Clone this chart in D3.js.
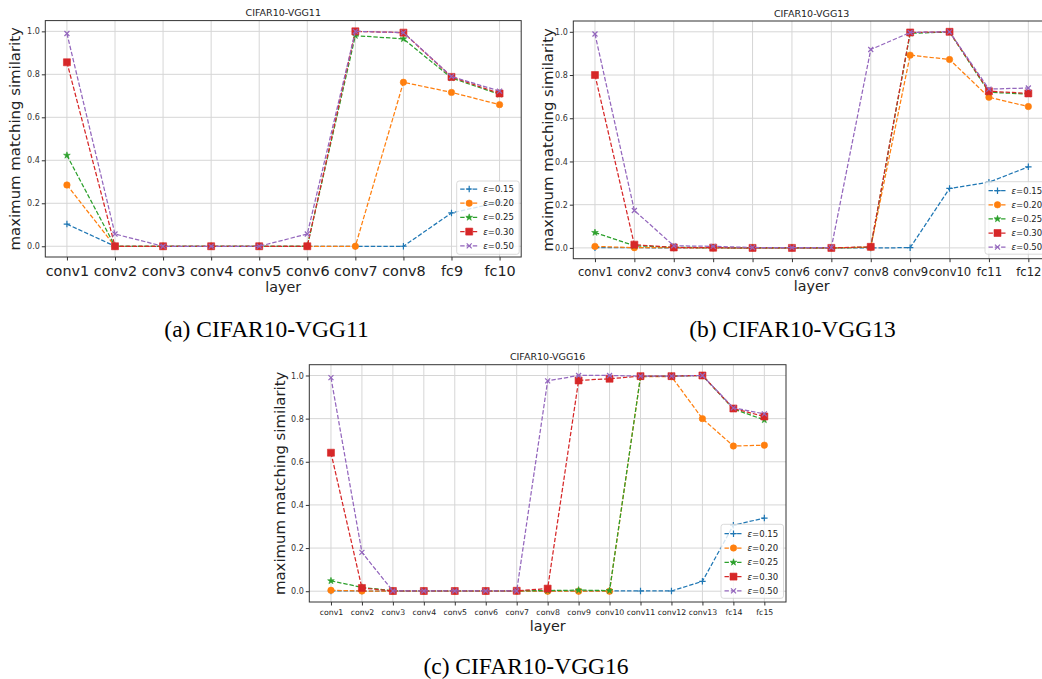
<!DOCTYPE html>
<html>
<head>
<meta charset="utf-8">
<script src="https://cdn.jsdelivr.net/npm/d3@7"></script>
<style>
  html, body { margin: 0; padding: 0; background: #fff; }
  svg { display: block; }
</style>
</head>
<body>
<svg id="chart" width="1042" height="679"></svg>
<script>
// ---------------- data ----------------
const seriesNames = ["ε=0.15", "ε=0.20", "ε=0.25", "ε=0.30", "ε=0.50"];
const epsValues = ["0.15", "0.20", "0.25", "0.30", "0.50"];
const seriesColors = ["#1f77b4", "#ff7f0e", "#2ca02c", "#d62728", "#9467bd"];
const seriesMarkers = ["plus", "circle", "star", "square", "cross"];
const yTicks = [0.0, 0.2, 0.4, 0.6, 0.8, 1.0];

const layersA = ["conv1","conv2","conv3","conv4","conv5","conv6","conv7","conv8","fc9","fc10"];
const vgg11_e15 = [0.103, 0, 0, 0, 0, 0, 0, 0, 0.155, 0.205];
const vgg11_e20 = [0.285, 0, 0, 0, 0, 0, 0, 0.763, 0.716, 0.659];
const vgg11_e25 = [0.423, 0, 0, 0, 0, 0, 0.980, 0.965, 0.783, 0.707];
const vgg11_e30 = [0.856, 0, 0, 0, 0, 0, 1.000, 0.994, 0.788, 0.711];
const vgg11_e50 = [0.990, 0.057, 0, 0, 0, 0.057, 1.000, 0.994, 0.790, 0.722];

const layersB = ["conv1","conv2","conv3","conv4","conv5","conv6","conv7","conv8","conv9","conv10","fc11","fc12"];
const vgg13_e15 = [0.001, 0.001, 0, 0, 0, 0, 0, 0, 0.001, 0.275, 0.304, 0.375];
const vgg13_e20 = [0.007, 0.001, 0.001, 0, 0, 0, 0, 0.003, 0.892, 0.872, 0.697, 0.654];
const vgg13_e25 = [0.071, 0.010, 0.003, 0.001, 0, 0, 0, 0.003, 0.993, 0.999, 0.720, 0.712];
const vgg13_e30 = [0.800, 0.015, 0.002, 0.001, 0, 0, 0, 0.005, 0.997, 1.000, 0.725, 0.715];
const vgg13_e50 = [0.990, 0.173, 0.010, 0.007, 0.002, 0.001, 0.001, 0.918, 0.997, 1.000, 0.735, 0.740];

const layersC = ["conv1","conv2","conv3","conv4","conv5","conv6","conv7","conv8","conv9","conv10","conv11","conv12","conv13","fc14","fc15"];
const vgg16_e15 = [0.001, 0.001, 0, 0, 0, 0, 0, 0, 0, 0.001, 0.001, 0.001, 0.046, 0.306, 0.339];
const vgg16_e20 = [0.004, 0.001, 0, 0, 0, 0, 0, 0, 0, 0, 0.995, 0.995, 0.800, 0.673, 0.677];
const vgg16_e25 = [0.048, 0.018, 0.002, 0.001, 0.001, 0.001, 0.002, 0.003, 0.005, 0.003, 0.995, 0.997, 1.000, 0.845, 0.794];
const vgg16_e30 = [0.642, 0.015, 0.001, 0.001, 0.001, 0.001, 0.002, 0.012, 0.977, 0.985, 0.997, 0.997, 1.000, 0.847, 0.810];
const vgg16_e50 = [0.990, 0.180, 0.001, 0.001, 0.001, 0.001, 0.001, 0.975, 1.000, 1.000, 0.997, 0.997, 1.000, 0.850, 0.822];

const titles = ["CIFAR10-VGG11", "CIFAR10-VGG13", "CIFAR10-VGG16"];
const captions = ["(a) CIFAR10-VGG11", "(b) CIFAR10-VGG13", "(c) CIFAR10-VGG16"];
const yLabel = "maximum matching similarity";
const xLabel = "layer";

// ---------------- layout ----------------
const panels = [
  { layers: layersA, series: [vgg11_e15, vgg11_e20, vgg11_e25, vgg11_e30, vgg11_e50],
    left: 45.3, right: 521.2, top: 20.6, bottom: 257, pad: 0.45,
    tickFont: 14.4, tickBase: 275.5, xlabBase: 292, ylabX: 15,
    title: titles[0], titleBase: 16, caption: captions[0], capX: 266.5, capBase: 336.5,
    legend: { x: 456.7, y: 181, w: 62.5, h: 73.3, row0: 189, dy: 14.2 } },
  { layers: layersB, series: [vgg13_e15, vgg13_e20, vgg13_e25, vgg13_e30, vgg13_e50],
    left: 573.3, right: 1050, top: 21, bottom: 258.7, pad: 0.55,
    tickFont: 11.6, tickBase: 276, xlabBase: 291, ylabX: 548,
    title: titles[1], titleBase: 17, caption: captions[1], capX: 792.5, capBase: 336.5,
    legend: { x: 985, y: 181.7, w: 62.5, h: 72.5, row0: 190.7, dy: 14.1 } },
  { layers: layersC, series: [vgg16_e15, vgg16_e20, vgg16_e25, vgg16_e30, vgg16_e50],
    left: 309.3, right: 786, top: 364.7, bottom: 602, pad: 0.7,
    tickFont: 7.8, tickBase: 615, xlabBase: 630.5, ylabX: 280,
    title: titles[2], titleBase: 359.5, caption: captions[2], capX: 526, capBase: 674,
    legend: { x: 721, y: 524.3, w: 62.5, h: 74, row0: 533.7, dy: 14.3 } }
];

const svg = d3.select("#chart");
svg.append("rect").attr("width", 1042).attr("height", 679).attr("fill", "#fff");

function markerPath(type, size) {
  switch (type) {
    case "circle": return d3.symbol(d3.symbolCircle, size * size * 0.75)();
    case "square": return d3.symbol(d3.symbolSquare, size * size)();
    case "star":   return d3.symbol(d3.symbolStar, size * size * 0.45)();
    case "plus": { const s = size / 2; return `M${-s},0H${s}M0,${-s}V${s}`; }
    case "cross": { const s = size / 2.6; return `M${-s},${-s}L${s},${s}M${-s},${s}L${s},${-s}`; }
  }
}
function drawMarker(g, type, color, x, y) {
  const filled = (type === "circle" || type === "square" || type === "star");
  const size = type === "square" ? 7 : type === "circle" ? 6.6 : type === "star" ? 5.6 : 6.5;
  g.append("path")
    .attr("d", markerPath(type, size))
    .attr("transform", `translate(${x},${y})`)
    .attr("fill", filled ? color : "none")
    .attr("stroke", color)
    .attr("stroke-width", filled ? 0.6 : 1.2);
}

panels.forEach((p, pi) => {
  const n = p.layers.length;
  const x = d3.scaleLinear().domain([-p.pad, n - 1 + p.pad]).range([p.left, p.right]);
  const y = d3.scaleLinear().domain([-0.05, 1.05]).range([p.bottom, p.top]);
  const g = svg.append("g");

  const clipId = "clip" + pi;
  svg.append("clipPath").attr("id", clipId)
    .append("rect").attr("x", p.left).attr("y", p.top)
    .attr("width", p.right - p.left).attr("height", p.bottom - p.top);

  // grid
  const grid = g.append("g").attr("clip-path", `url(#${clipId})`);
  grid.selectAll("line.gx").data(d3.range(n)).join("line")
    .attr("x1", d => x(d)).attr("x2", d => x(d))
    .attr("y1", p.top).attr("y2", p.bottom)
    .attr("stroke", "#d6d6d6").attr("stroke-width", 1);
  grid.selectAll("line.gy").data(yTicks).join("line")
    .attr("x1", p.left).attr("x2", p.right)
    .attr("y1", d => y(d)).attr("y2", d => y(d))
    .attr("stroke", "#d6d6d6").attr("stroke-width", 1);

  // axes
  const yAxis = d3.axisLeft(y).tickValues(yTicks).tickFormat(d3.format(".1f")).tickSize(3.5).tickPadding(2);
  const ya = g.append("g").attr("transform", `translate(${p.left},0)`).call(yAxis);
  ya.select(".domain").remove();
  ya.selectAll("line").attr("stroke", "#333");
  ya.selectAll("text").attr("font-family", "DejaVu Sans").attr("font-size", 8).attr("fill", "#333");

  const xAxis = d3.axisBottom(x).tickValues(d3.range(n)).tickFormat(i => p.layers[i]).tickSize(3.5).tickPadding(2);
  const xa = g.append("g").attr("transform", `translate(0,${p.bottom})`).call(xAxis);
  xa.select(".domain").remove();
  xa.selectAll("line").attr("stroke", "#333");
  xa.selectAll("text").attr("font-family", "DejaVu Sans").attr("font-size", p.tickFont)
    .attr("fill", "#222").attr("dy", null).attr("y", p.tickBase - p.bottom);

  // frame
  g.append("rect").attr("x", p.left).attr("y", p.top)
    .attr("width", p.right - p.left).attr("height", p.bottom - p.top)
    .attr("fill", "none").attr("stroke", "#333").attr("stroke-width", 1);

  // series
  const plot = g.append("g").attr("clip-path", `url(#${clipId})`);
  const line = d3.line().x((d, i) => x(i)).y(d => y(d));
  p.series.forEach((vals, si) => {
    plot.append("path").datum(vals).attr("d", line)
      .attr("fill", "none").attr("stroke", seriesColors[si])
      .attr("stroke-width", 1.25).attr("stroke-dasharray", "4.4,1.9");
    vals.forEach((v, i) => drawMarker(plot, seriesMarkers[si], seriesColors[si], x(i), y(v)));
  });

  // legend
  const L = p.legend;
  const lg = g.append("g");
  lg.append("rect").attr("x", L.x).attr("y", L.y).attr("width", L.w).attr("height", L.h)
    .attr("rx", 2.5).attr("fill", "#fff").attr("fill-opacity", 0.8)
    .attr("stroke", "#d0d0d0").attr("stroke-width", 0.8);
  seriesNames.forEach((name, si) => {
    const ry = L.row0 + si * L.dy;
    lg.append("line").attr("x1", L.x + 3.5).attr("x2", L.x + 21.5).attr("y1", ry).attr("y2", ry)
      .attr("stroke", seriesColors[si]).attr("stroke-width", 1.25).attr("stroke-dasharray", "4.4,1.9");
    drawMarker(lg, seriesMarkers[si], seriesColors[si], L.x + 12.5, ry);
    const t = lg.append("text").attr("x", L.x + 26.5).attr("y", ry + 3)
      .attr("font-family", "DejaVu Sans").attr("font-size", 8.5).attr("fill", "#222");
    t.append("tspan").attr("font-style", "italic").text("ε");
    t.append("tspan").text("=" + epsValues[si]);
  });

  // title
  const cx = (p.left + p.right) / 2;
  g.append("text").attr("x", cx).attr("y", p.titleBase).attr("text-anchor", "middle")
    .attr("font-family", "DejaVu Sans").attr("font-size", 9.5).attr("fill", "#222").text(p.title);

  // axis labels
  g.append("text").attr("x", cx).attr("y", p.xlabBase).attr("text-anchor", "middle")
    .attr("font-family", "DejaVu Sans").attr("font-size", 14.3).attr("fill", "#222").text(xLabel);
  const ycy = (p.top + p.bottom) / 2;
  g.append("text").attr("transform", `translate(${p.ylabX},${ycy}) rotate(-90)`)
    .attr("text-anchor", "middle").attr("dominant-baseline", "central")
    .attr("font-family", "DejaVu Sans").attr("font-size", 14.9).attr("fill", "#222").text(yLabel);

  // caption
  svg.append("text").attr("x", p.capX).attr("y", p.capBase).attr("text-anchor", "middle")
    .attr("font-family", "Liberation Serif").attr("font-size", 23.5).attr("fill", "#000").text(p.caption);
});
</script>
</body>
</html>
